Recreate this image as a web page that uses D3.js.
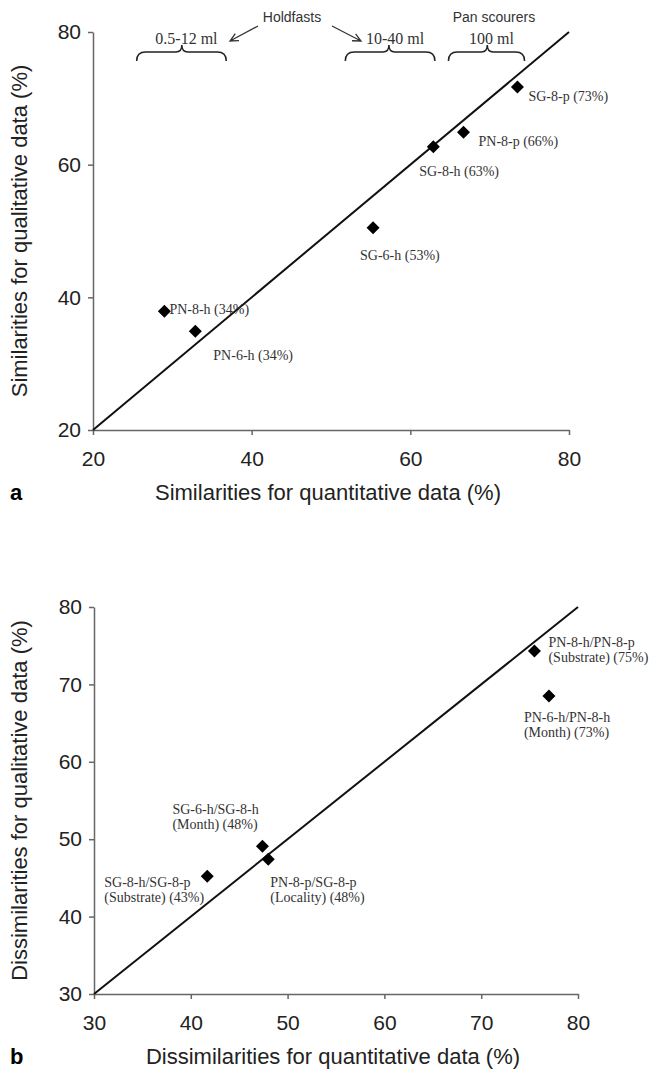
<!DOCTYPE html>
<html>
<head>
<meta charset="utf-8">
<script src="https://cdn.jsdelivr.net/npm/d3@7"></script>
<style>
  body { margin: 0; background: #fff; }
  svg { display: block; }
  .axis text { font-family: "Liberation Sans", Arial, sans-serif; font-size: 21px; fill: #222; }
  .axis path, .axis line { stroke: #666; stroke-width: 1.5; }
  .title { font-family: "Liberation Sans", Arial, sans-serif; font-size: 22px; fill: #222; }
  .lab { font-family: "Liberation Serif", "Times New Roman", serif; font-size: 14px; fill: #333; }
</style>
</head>
<body>
<svg width="655" height="1073"></svg>
<script>
// panel a data (similarities, %)
var simLabels = ["SG-8-p (73%)", "PN-8-p (66%)", "SG-8-h (63%)", "SG-6-h (53%)", "PN-8-h (34%)", "PN-6-h (34%)"];
var simQuant = [73.5, 66.7, 62.9, 55.3, 29.0, 32.9];
var simQual  = [71.7, 64.9, 62.7, 50.5, 37.9, 34.9];
var simTicks = [20, 40, 60, 80];

// panel b data (dissimilarities, %)
var disLabels = [["PN-8-h/PN-8-p", "(Substrate) (75%)"], ["PN-6-h/PN-8-h", "(Month) (73%)"],
                 ["SG-6-h/SG-8-h", "(Month) (48%)"], ["PN-8-p/SG-8-p", "(Locality) (48%)"],
                 ["SG-8-h/SG-8-p", "(Substrate) (43%)"]];
var disQuant = [75.5, 77.0, 47.4, 48.0, 41.7];
var disQual  = [74.3, 68.5, 49.1, 47.4, 45.2];
var disTicks = [30, 40, 50, 60, 70, 80];

// brace annotations for panel a (x range in data units)
var braceText = ["0.5-12 ml", "10-40 ml", "100 ml"];
var braceFrom = [25.5, 51.8, 64.8];
var braceTo   = [36.8, 63.1, 74.4];
var braceTip  = [31.2, 57.3, 69.7];

// label offsets from the marker, in pixels (layout only)
var simOff = [[11, 14], [15, 14], [-14, 29], [-13, 32], [5, 3], [18, 29]];
var disOff = [[14, -4], [-25, 26], [-90, -32], [2, 28], [-103, 11]];

var svg = d3.select("svg");

//a rotated square, half diagonal r
function diamond(r) {
  return "M0," + (-r) + "L" + r + ",0L0," + r + "L" + (-r) + ",0Z";
}

function panel(o) {
  var x = d3.scaleLinear().domain(o.dom).range([o.left, o.right]);
  var y = d3.scaleLinear().domain(o.dom).range([o.bottom, o.top]);

  svg.append("g").attr("class", "axis")
    .attr("transform", "translate(0," + o.bottom + ")")
    .call(d3.axisBottom(x).tickValues(o.ticks).tickSize(5).tickPadding(16).tickSizeOuter(0));
  svg.append("g").attr("class", "axis")
    .attr("transform", "translate(" + o.left + ",0)")
    .call(d3.axisLeft(y).tickValues(o.ticks).tickSize(5).tickPadding(7).tickSizeOuter(0));

  //1:1 line
  svg.append("line")
    .attr("x1", x(o.dom[0])).attr("y1", y(o.dom[0]))
    .attr("x2", x(o.dom[1])).attr("y2", y(o.dom[1]))
    .attr("stroke", "#111").attr("stroke-width", 2);

  var pts = o.xs.map(function(v, i) { return {x: v, y: o.ys[i], lab: o.labels[i], off: o.off[i]}; });

  svg.selectAll(null).data(pts).enter().append("path")
    .attr("d", diamond(6.5))
    .attr("transform", function(d) { return "translate(" + x(d.x) + "," + y(d.y) + ")"; })
    .attr("fill", "#000");

  var t = svg.selectAll(null).data(pts).enter().append("text")
    .attr("class", "lab")
    .attr("x", function(d) { return x(d.x) + d.off[0]; })
    .attr("y", function(d) { return y(d.y) + d.off[1]; });
  t.each(function(d) {
    var lines = Array.isArray(d.lab) ? d.lab : [d.lab];
    var el = d3.select(this);
    lines.forEach(function(s, k) {
      el.append("tspan").attr("x", x(d.x) + d.off[0]).attr("dy", k ? 15 : 0).text(s);
    });
  });

  svg.append("text").attr("class", "title")
    .attr("x", (o.left + o.right) / 2 - 3).attr("y", o.bottom + 70)
    .attr("text-anchor", "middle").text(o.xTitle);
  svg.append("text").attr("class", "title")
    .attr("transform", "translate(27," + (o.top + o.bottom) / 2 + ") rotate(-90)")
    .attr("text-anchor", "middle").text(o.yTitle);
  svg.append("text")
    .attr("x", 10).attr("y", o.bottom + 70)
    .style("font-family", "Liberation Sans, Arial, sans-serif")
    .style("font-size", "22px").style("font-weight", "bold")
    .text(o.tag);
  return x;
}

var xa = panel({
  dom: [20, 80], left: 93, right: 569, top: 32, bottom: 430, ticks: simTicks,
  xs: simQuant, ys: simQual, labels: simLabels, off: simOff,
  xTitle: "Similarities for quantitative data (%)",
  yTitle: "Similarities for qualitative data (%)", tag: "a"
});

panel({
  dom: [30, 80], left: 94, right: 578, top: 607, bottom: 994, ticks: disTicks,
  xs: disQuant, ys: disQual, labels: disLabels, off: disOff,
  xTitle: "Dissimilarities for quantitative data (%)",
  yTitle: "Dissimilarities for qualitative data (%)", tag: "b"
});

// braces over panel a
var by = 52;
braceText.forEach(function(s, i) {
  var x0 = xa(braceFrom[i]), x1 = xa(braceTo[i]), xt = xa(braceTip[i]);
  var p = "M" + x0 + "," + (by + 9) + "Q" + x0 + "," + by + " " + (x0 + 9) + "," + by +
          "L" + (xt - 6) + "," + by + "Q" + xt + "," + by + " " + xt + "," + (by - 7) +
          "Q" + xt + "," + by + " " + (xt + 6) + "," + by +
          "L" + (x1 - 9) + "," + by + "Q" + x1 + "," + by + " " + x1 + "," + (by + 9);
  svg.append("path").attr("d", p).attr("fill", "none").attr("stroke", "#222").attr("stroke-width", 1.5);
  svg.append("text").attr("class", "lab")
    .attr("x", (x0 + x1) / 2 + 5).attr("y", 44)
    .attr("text-anchor", "middle").style("font-size", "16px")
    .text(s);
});

svg.append("text").attr("class", "lab")
  .attr("x", 292).attr("y", 22).attr("text-anchor", "middle")
  .style("font-family", "Liberation Sans, Arial, sans-serif").style("font-size", "14px")
  .text("Holdfasts");
svg.append("text").attr("class", "lab")
  .attr("x", 494).attr("y", 22).attr("text-anchor", "middle")
  .style("font-family", "Liberation Sans, Arial, sans-serif").style("font-size", "14px")
  .text("Pan scourers");

//arrows from Holdfasts to the two brace labels
function arrow(xs, ys, xe, ye) {
  var a = Math.atan2(ye - ys, xe - xs), h = 9;
  var p = "M" + xs + "," + ys + "L" + xe + "," + ye +
    "M" + (xe - h * Math.cos(a - 0.45)) + "," + (ye - h * Math.sin(a - 0.45)) + "L" + xe + "," + ye +
    "L" + (xe - h * Math.cos(a + 0.45)) + "," + (ye - h * Math.sin(a + 0.45));
  svg.append("path").attr("d", p).attr("fill", "none").attr("stroke", "#333").attr("stroke-width", 1.3);
}
arrow(258, 26, 230, 41);
arrow(332, 26, 361, 41);
</script>
</body>
</html>
